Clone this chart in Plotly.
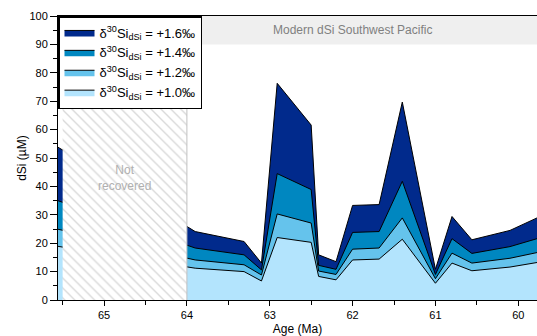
import plotly.graph_objects as go

ages = [65.6, 63.9, 63.31, 63.10, 62.91, 62.50, 62.41, 62.20, 62.00, 61.68, 61.40, 61.00, 60.80, 60.56, 60.10, 59.774]
dsi_16 = [54.6, 24.1, 20.6, 13.0, 76.3, 61.6, 15.9, 13.5, 33.3, 33.6, 69.7, 10.8, 29.4, 21.2, 24.5, 28.9]
dsi_14 = [35.4, 18.3, 15.9, 10.6, 44.5, 38.9, 12.2, 10.8, 23.8, 24.1, 41.8, 9.0, 21.6, 16.4, 18.8, 21.6]
dsi_12 = [25.2, 14.1, 12.4, 8.8, 30.3, 27.1, 10.2, 9.0, 17.9, 18.3, 28.9, 7.5, 16.5, 13.0, 14.7, 16.7]
dsi_10 = [19.1, 11.2, 10.0, 6.7, 22.0, 20.3, 8.3, 7.1, 14.1, 14.4, 21.4, 5.9, 13.0, 10.3, 11.6, 13.2]

series_names = ["+1.6‰", "+1.4‰", "+1.2‰", "+1.0‰"]
series_vals = [dsi_16, dsi_14, dsi_12, dsi_10]
series_colors = ["#012a8c", "#0087c0", "#65c3ec", "#b3e4fd"]

gap_start, gap_end = 65.5, 64.0
modern_lo, modern_hi = 90, 100
x_range = [65.556, 59.774]

FONT = "Arial, Liberation Sans, sans-serif"

fig = go.Figure()

for name, vals, col in zip(series_names, series_vals, series_colors):
    fig.add_trace(go.Scatter(
        x=ages, y=vals, mode="lines", fill="tozeroy",
        fillcolor=col, line=dict(color="black", width=1),
        name="δ<sup>30</sup>Si<sub>dSi</sub> = " + name,
        hoverinfo="skip",
    ))

# Not recovered hatched region
fig.add_trace(go.Scatter(
    x=[gap_start, gap_end, gap_end, gap_start, gap_start],
    y=[0, 0, 100, 100, 0],
    mode="lines", fill="toself", line=dict(width=0),
    fillcolor="white",
    fillpattern=dict(shape="\\", fgcolor="#b4b4b4", bgcolor="white", size=7, solidity=0.2),
    showlegend=False, hoverinfo="skip",
))

fig.add_shape(type="rect", xref="x", yref="y", x0=x_range[0], x1=x_range[1],
              y0=modern_lo, y1=modern_hi, fillcolor="#efefef", line=dict(width=0), layer="below")
fig.add_shape(type="line", xref="x", yref="y", x0=gap_end, x1=gap_end, y0=0, y1=100,
              line=dict(color="#c0c0c0", width=1), layer="above")

fig.add_annotation(x=62, y=95, xref="x", yref="y", text="Modern dSi Southwest Pacific",
                   showarrow=False, font=dict(family=FONT, size=12, color="#808080"))
fig.add_annotation(x=64.75, y=43, xref="x", yref="y", text="Not<br>recovered",
                   showarrow=False, font=dict(family=FONT, size=12, color="#b0b0b0"))

fig.update_layout(
    width=537, height=336,
    margin=dict(l=58, r=0, t=16, b=36, autoexpand=False),
    plot_bgcolor="white", paper_bgcolor="white",
    font=dict(family=FONT, size=11, color="black"),
    legend=dict(x=0, y=1, xanchor="left", yanchor="top",
                bgcolor="white", bordercolor="black", borderwidth=1.5,
                font=dict(family=FONT, size=13), tracegroupgap=0,
                itemwidth=30),
)

fig.update_xaxes(
    range=x_range, showgrid=False, zeroline=False,
    showline=True, linecolor="black", linewidth=1, mirror=True,
    ticks="outside", ticklen=5, tickcolor="black",
    tickvals=[65, 64, 63, 62, 61, 60], ticktext=["65", "64", "63", "62", "61", "60"],
    minor=dict(tickvals=[65.5, 64.5, 63.5, 62.5, 61.5, 60.5], ticks="outside", ticklen=4, tickcolor="black"),
    title=dict(text="Age (Ma)", font=dict(family=FONT, size=12), standoff=4),
    tickfont=dict(size=11),
)
fig.update_yaxes(
    range=[0, 100], showgrid=False, zeroline=False,
    showline=True, linecolor="black", linewidth=1, mirror=False,
    ticks="outside", ticklen=7, tickcolor="black",
    tickvals=list(range(0, 101, 10)),
    minor=dict(tickvals=list(range(5, 100, 10)), ticks="outside", ticklen=4, tickcolor="black"),
    title=dict(text="dSi (µM)", font=dict(family=FONT, size=12), standoff=0),
    tickfont=dict(size=11),
)

fig.write_html("out.html", config={"displayModeBar": False},
               post_script="document.body.style.margin='0';document.body.style.overflow='hidden';")
